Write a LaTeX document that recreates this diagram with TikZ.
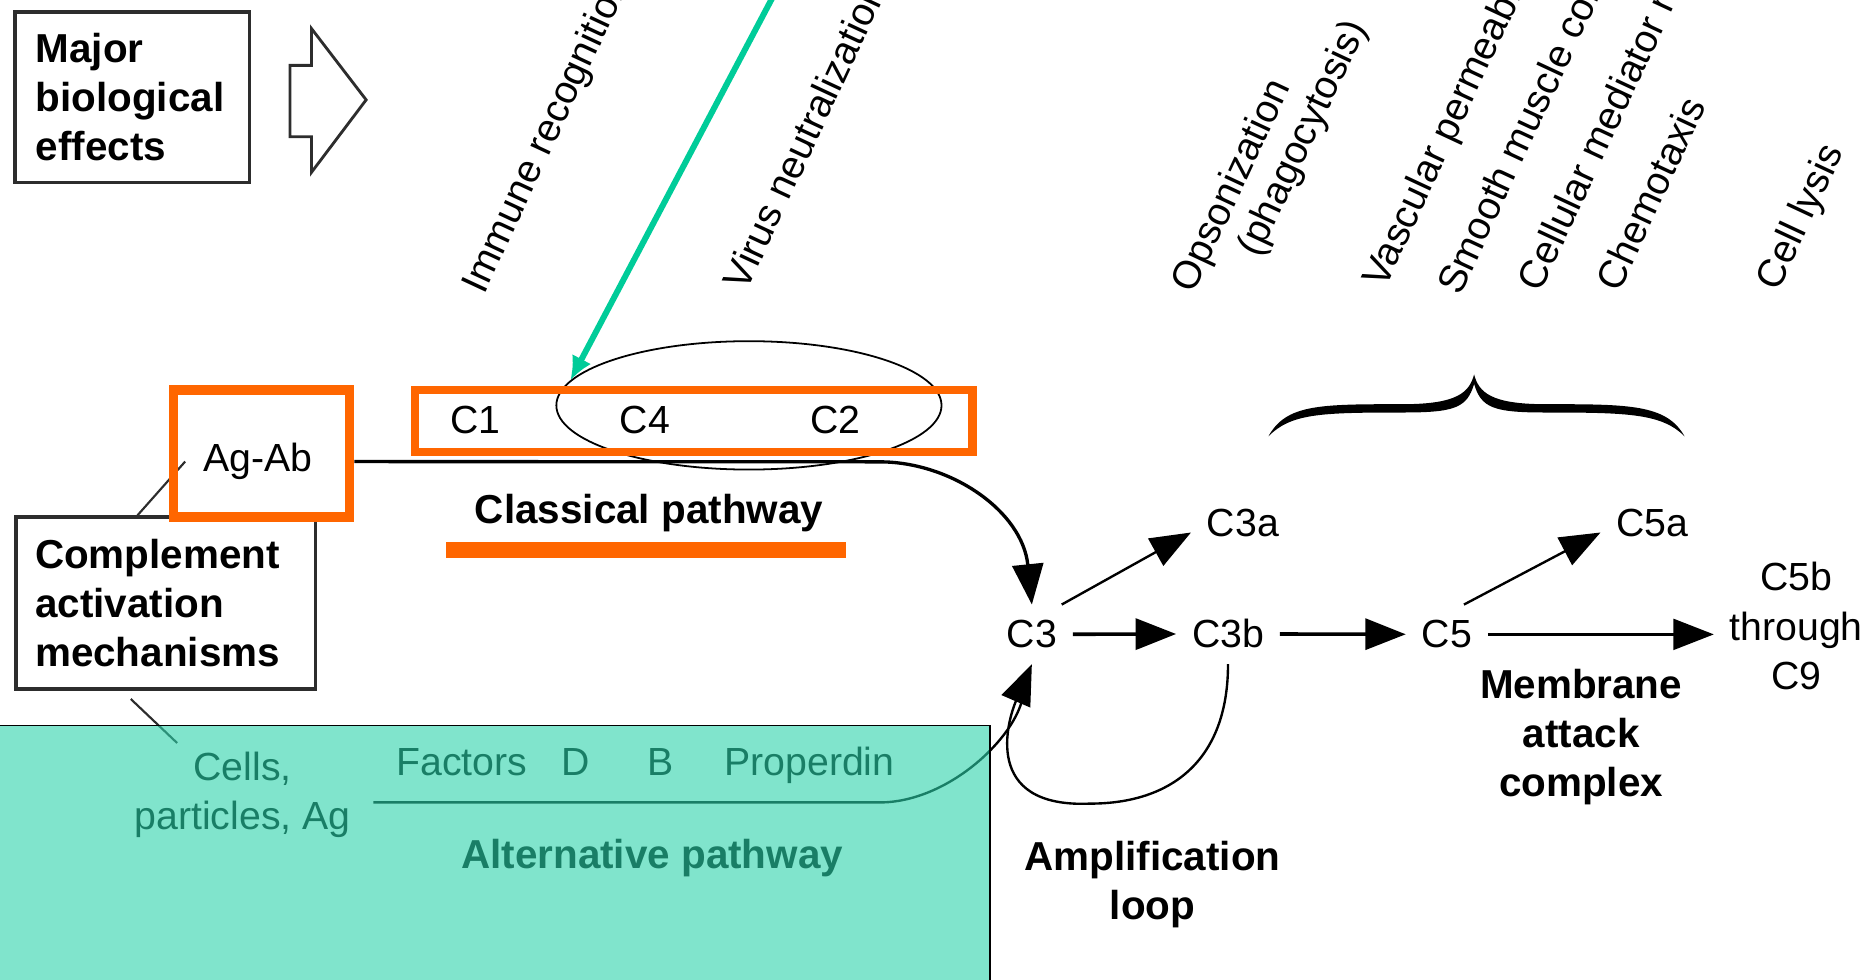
\documentclass[tikz,border=0pt]{standalone}
\usepackage{fontspec}
\setmainfont{Liberation Sans}
\usetikzlibrary{arrows.meta,shapes.geometric}
\pgfdeclarelayer{background}
\pgfdeclarelayer{foreground}
\pgfdeclarelayer{toplayer}
\pgfsetlayers{background,main,foreground,toplayer}
\definecolor{orng}{RGB}{255,102,0}
\definecolor{tealov}{RGB}{43,210,170}
\definecolor{grn}{RGB}{0,204,153}
\definecolor{boxgray}{RGB}{45,45,45}
\begin{document}
\begin{tikzpicture}[x=0.5pt,y=-0.5pt,
  lbl/.style={font=\fontsize{16.5}{20.7}\selectfont, inner sep=0pt},
  blbl/.style={font=\fontsize{17}{20.7}\selectfont\bfseries, inner sep=0pt},
  cnode/.style={font=\fontsize{16.5}{20.7}\selectfont, inner sep=6.5pt, anchor=base},
  rot/.style={font=\fontsize{16.5}{20.7}\selectfont, inner sep=0pt, anchor=base west, rotate=65},
  framebox/.style={draw=boxgray, line width=1.4pt, align=left, font=\fontsize{17}{20.7}\selectfont\bfseries},
  obox/.style={draw=orng, inner sep=0pt},
  bigtip/.style={-{Triangle[length=17pt,width=13pt]}},
  conn/.style={draw=boxgray, line width=0.9pt}]
\useasboundingbox (0,0) rectangle (1568,824);
\clip (0,0) rectangle (1568,824);

% boxes at left
\node[framebox, minimum width=98.75pt, minimum height=71.75pt, inner xsep=8.75pt, text width=81.25pt] (major) at (111.25,81.75) {Major\\biological\\effects};
\draw[boxgray, line width=1.2pt] (244,55) -- (262,55) -- (262,24) -- (308,84) -- (262,145) -- (262,115) -- (244,115) -- cycle;
\node[framebox, minimum width=126pt, minimum height=72.25pt, inner xsep=8pt, text width=110pt] (comp) at (139.5,507.25) {Complement\\activation\\mechanisms};

% rotated effect labels
\node[rot] (immune) at (407,249) {Immune recognition};
\node[rot] (virus) at (628,246) {Virus neutralization};
\node[rot] (opson) at (1004,248) {Opsonization};
\node[rot] (phago) at (1059,218) {(phagocytosis)};
\node[rot] (vasc) at (1165,244) {Vascular permeability};
\node[rot] (smooth) at (1228,250) {Smooth muscle contraction};
\node[rot] (cellmed) at (1296,247) {Cellular mediator release};
\node[rot] (chemo) at (1362,247) {Chemotaxis};
\node[rot] (lysis) at (1496,246) {Cell lysis};

% brace
\fill (1067,367) .. controls (1082,340) and (1110,340) .. (1180,340)
  .. controls (1226,340) and (1236,330) .. (1240,315)
  .. controls (1244,330) and (1254,340) .. (1300,340)
  .. controls (1370,340) and (1402,340) .. (1417,367)
  .. controls (1398,348) and (1370,347) .. (1300,347)
  .. controls (1256,347) and (1246,343) .. (1240,323)
  .. controls (1234,343) and (1224,347) .. (1180,347)
  .. controls (1110,347) and (1086,348) .. (1067,367) -- cycle;

% classical pathway
\node[lbl, inner sep=7.5pt, anchor=base] (AgAb) at (217,396.8) {Ag-Ab};
\node[lbl, anchor=base] (C1) at (400,364.5) {C1};
\node[lbl, anchor=base] (C4) at (542.6,364.5) {C4};
\node[lbl, anchor=base] (C2) at (703,364.5) {C2};
\node[ellipse, draw, line width=0.75pt, minimum width=162pt, minimum height=54pt, inner sep=0pt] (ell) at (630,341) {};
\node[blbl, anchor=base] (classical) at (546,440) {Classical pathway};

% orange highlights
\node[obox, line width=4pt, minimum width=74pt, minimum height=53.5pt] (agbox) at (220,381.5) {};
\node[obox, line width=3.5pt, minimum width=234.5pt, minimum height=26pt] (cbox) at (583.5,354) {};
\node[fill=orng, inner sep=0pt, minimum width=168.5pt, minimum height=6.5pt] (cbar) at (543.5,462.5) {};

% cascade nodes
\node[cnode] (C3) at (868,545) {C3};
\node[cnode] (C3b) at (1033,545) {C3b};
\node[cnode] (C5) at (1217,545) {C5};
\node[cnode] (C3a) at (1045.5,451.6) {C3a};
\node[cnode] (C5a) at (1390,451.6) {C5a};
\node[lbl, align=center, anchor=north] (C5b) at (1511,472.7) {C5b\\through\\C9};
\node[blbl, align=center, anchor=north] (mac) at (1330,562.5) {Membrane\\attack\\complex};
\node[blbl, align=center, anchor=north] (amp) at (969.5,707.3) {Amplification\\loop};

% alternative pathway texts
\node[lbl, align=center, anchor=north] (cells) at (204,632) {Cells,\\particles, Ag};
\node[lbl, anchor=base west] (factors) at (333,652) {Factors};
\node[lbl, anchor=base west] (fD) at (472,652) {D};
\node[lbl, anchor=base west] (fB) at (544,652) {B};
\node[lbl, anchor=base west] (prop) at (609,652) {Properdin};
\node[blbl, anchor=base] (alt) at (548.6,730.4) {Alternative pathway};

% connectors
\begin{pgfonlayer}{background}
\draw[conn] (comp.108.7) -- (AgAb.west);
\coordinate (compfoot) at (110,588);
\coordinate (cellstip) at (149,625);
\draw[conn] (compfoot) -- (cellstip);
\draw[bigtip, line width=1.4pt] (agbox.east |- AgAb.east) -- (740,388.5) .. controls (800,388.5) and (860,430) .. (C3.north);
\coordinate (altstart) at (314,675);
\draw[line width=1pt, shorten >=16pt] (altstart) -- (740,675) .. controls (795,675) and (850,625) .. (C3.south);
\end{pgfonlayer}
\draw[bigtip, line width=1pt] (C3b.south) .. controls (1033,640) and (985,676) .. (917,676) .. controls (825,680) and (848,605) .. (C3.south);
\draw[bigtip, line width=1.5pt] (C3) -- (C3b);
\draw[bigtip, line width=1.5pt] (C3b) -- (C5);
\draw[bigtip, line width=1pt] (C3.45) -- (C3a.190);
\draw[bigtip, line width=1pt] (C5.60) -- (C5a.190);
\draw[bigtip, line width=1pt, shorten >=6.5pt] (C5) -- (C5b.west |- C5);

% teal overlay
\begin{pgfonlayer}{foreground}
\node[draw, line width=0.7pt, fill=tealov, fill opacity=0.6, draw opacity=1, inner sep=0pt, minimum width=421.5pt, minimum height=114.8pt] (altbox) at (411.5,725.2) {};
\end{pgfonlayer}

% green pointer
\begin{pgfonlayer}{toplayer}
\coordinate (gstart) at (654,-10);
\draw[grn, line width=2.5pt, -{Latex[length=10pt,width=9pt]}] (gstart) -- (ell.172);
\end{pgfonlayer}
\end{tikzpicture}
\end{document}
